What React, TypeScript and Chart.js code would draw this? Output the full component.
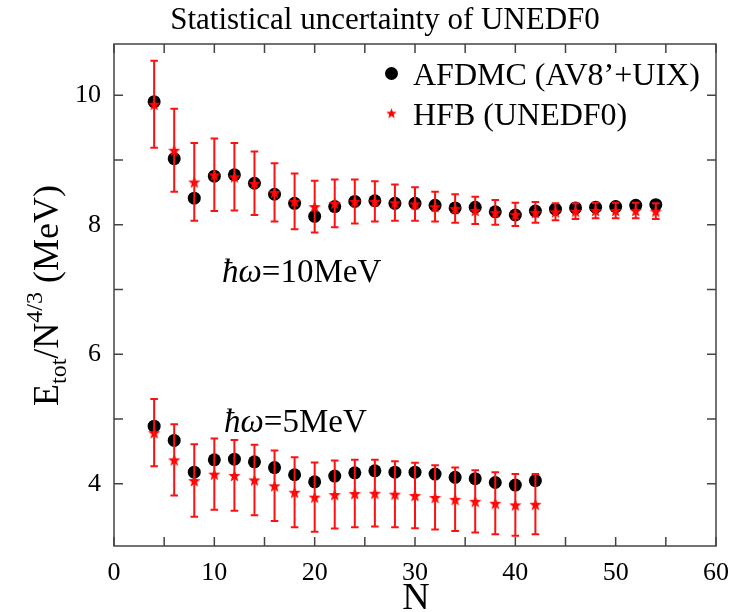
import React, { useEffect, useRef } from "react";
import { Chart, registerables } from "chart.js";
Chart.register(...registerables);

// ---- data ----
const nHigh = [4, 6, 8, 10, 12, 14, 16, 18, 20, 22, 24, 26, 28, 30, 32, 34, 36, 38, 40, 42, 44, 46, 48, 50, 52, 54];
const afdmc10 = [9.9, 9.02, 8.41, 8.75, 8.77, 8.64, 8.47, 8.33, 8.13, 8.28, 8.36, 8.37, 8.33, 8.33, 8.3, 8.26, 8.27, 8.2, 8.15, 8.21, 8.24, 8.26, 8.27, 8.28, 8.3, 8.31];
const hfb10 = [9.86, 9.15, 8.66, 8.77, 8.74, 8.64, 8.5, 8.36, 8.28, 8.33, 8.36, 8.36, 8.34, 8.32, 8.28, 8.25, 8.22, 8.19, 8.16, 8.19, 8.2, 8.21, 8.22, 8.22, 8.22, 8.21];
const hfb10Err = [0.67, 0.64, 0.6, 0.56, 0.52, 0.49, 0.45, 0.43, 0.4, 0.37, 0.34, 0.31, 0.28, 0.26, 0.23, 0.22, 0.21, 0.19, 0.18, 0.16, 0.13, 0.12, 0.12, 0.12, 0.12, 0.12];

const nLow = [4, 6, 8, 10, 12, 14, 16, 18, 20, 22, 24, 26, 28, 30, 32, 34, 36, 38, 40, 42];
const afdmc5 = [4.89, 4.67, 4.18, 4.37, 4.38, 4.34, 4.25, 4.14, 4.03, 4.12, 4.17, 4.2, 4.18, 4.18, 4.15, 4.1, 4.08, 4.02, 3.98, 4.05];
const hfb5 = [4.79, 4.37, 4.05, 4.15, 4.13, 4.06, 3.97, 3.87, 3.795, 3.835, 3.85, 3.855, 3.84, 3.82, 3.79, 3.76, 3.73, 3.7, 3.675, 3.685];
const hfb5Err = [0.52, 0.55, 0.56, 0.55, 0.545, 0.545, 0.545, 0.54, 0.535, 0.525, 0.52, 0.515, 0.51, 0.505, 0.495, 0.49, 0.48, 0.48, 0.475, 0.465];

const xTickValues = [0, 5, 10, 15, 20, 25, 30, 35, 40, 45, 50, 55, 60];
const xLabelValues = [0, 10, 20, 30, 40, 50, 60];
const yTickValues = [4, 5, 6, 7, 8, 9, 10];
const yLabelValues = [4, 6, 8, 10];

const titleText = "Statistical uncertainty of UNEDF0";
const legendLabels = ["AFDMC (AV8\u2019+UIX)", "HFB (UNEDF0)"];
const annot10 = "=10MeV";
const annot5 = "=5MeV";

const SERIF = '"Liberation Serif", "Times New Roman", serif';

function makeStar(outer: number, inner: number, color: string) {
  const size = Math.ceil(outer * 2 + 2);
  const c = document.createElement("canvas");
  c.width = size;
  c.height = size;
  const ctx = c.getContext("2d")!;
  ctx.translate(size / 2, size / 2 + 0.7);
  ctx.beginPath();
  for (let i = 0; i < 10; i++) {
    const r = i % 2 === 0 ? outer : inner;
    const a = -Math.PI / 2 + (i * Math.PI) / 5;
    ctx.lineTo(r * Math.cos(a), r * Math.sin(a));
  }
  ctx.closePath();
  ctx.fillStyle = color;
  ctx.fill();
  return c;
}

export default function App() {
  const ref = useRef<HTMLCanvasElement>(null);
  useEffect(() => {
    const star = makeStar(6.5, 2.7, "#ff0000");
    const legendStar = makeStar(5.5, 2.3, "#ff0000");
    const toPts = (xs: number[], ys: number[]) => xs.map((x, i) => ({ x, y: ys[i] }));

    const overlay = {
      id: "overlay",
      afterDatasetsDraw(chart: any) {
        const { ctx, scales } = chart;
        const xs = scales.x, ys = scales.y;
        chart.data.datasets.forEach((ds: any) => {
          if (!ds.errors) return;
          ctx.save();
          ctx.strokeStyle = "#ff1010";
          ctx.lineWidth = 2;
          ds.data.forEach((p: any, i: number) => {
            const px = xs.getPixelForValue(p.x);
            const t = ys.getPixelForValue(p.y + ds.errors[i]);
            const b = ys.getPixelForValue(p.y - ds.errors[i]);
            ctx.beginPath();
            ctx.moveTo(px, t);
            ctx.lineTo(px, b);
            ctx.moveTo(px - 3.8, t);
            ctx.lineTo(px + 3.8, t);
            ctx.moveTo(px - 3.8, b);
            ctx.lineTo(px + 3.8, b);
            ctx.stroke();
          });
          ctx.restore();
        });
      },
      afterDraw(chart: any) {
        const { ctx, chartArea, scales } = chart;
        const { left, right, top, bottom } = chartArea;
        const xs = scales.x, ys = scales.y;
        ctx.save();
        // frame
        ctx.strokeStyle = "#444";
        ctx.lineWidth = 1.5;
        ctx.strokeRect(left, top, right - left, bottom - top);
        // inward ticks
        const tl = 9;
        ctx.beginPath();
        xTickValues.forEach((v) => {
          const px = xs.getPixelForValue(v);
          ctx.moveTo(px, bottom);
          ctx.lineTo(px, bottom - tl);
          ctx.moveTo(px, top);
          ctx.lineTo(px, top + tl);
        });
        yTickValues.forEach((v) => {
          const py = ys.getPixelForValue(v);
          ctx.moveTo(left, py);
          ctx.lineTo(left + tl, py);
          ctx.moveTo(right, py);
          ctx.lineTo(right - tl, py);
        });
        ctx.stroke();

        ctx.fillStyle = "#000";
        // title
        ctx.font = `31px ${SERIF}`;
        ctx.textAlign = "center";
        ctx.textBaseline = "alphabetic";
        ctx.fillText(titleText, 385, 29);

        // x title
        ctx.font = `38px ${SERIF}`;
        ctx.fillText("N", 416, 609);

        // y title with sub/superscripts
        const segs = [
          { t: "E", s: 36, dy: 0 },
          { t: "tot", s: 24, dy: 8 },
          { t: "/N", s: 36, dy: 0 },
          { t: "4/3", s: 24, dy: -16 },
          { t: " (MeV)", s: 36, dy: 0 },
        ];
        ctx.save();
        ctx.translate(58, 406);
        ctx.rotate(-Math.PI / 2);
        ctx.textAlign = "left";
        let cx = 0;
        segs.forEach((g) => {
          ctx.font = `${g.s}px ${SERIF}`;
          ctx.fillText(g.t, cx, g.dy);
          cx += ctx.measureText(g.t).width;
        });
        ctx.restore();

        // annotations
        const drawAnnot = (txt: string, x: number, y: number) => {
          ctx.textAlign = "left";
          ctx.font = `italic 33px ${SERIF}`;
          ctx.fillText("\u0127\u03c9", x, y);
          const w = ctx.measureText("\u0127\u03c9").width;
          ctx.font = `33px ${SERIF}`;
          ctx.fillText(txt, x + w, y);
        };
        drawAnnot(annot10, 222, 282);
        drawAnnot(annot5, 224, 432);

        // legend
        ctx.beginPath();
        ctx.arc(391.5, 73.5, 6.5, 0, Math.PI * 2);
        ctx.fillStyle = "#000";
        ctx.fill();
        ctx.drawImage(legendStar, 391.5 - legendStar.width / 2, 113 - legendStar.height / 2);
        ctx.font = `32px ${SERIF}`;
        ctx.textAlign = "left";
        ctx.fillText(legendLabels[0], 413, 85);
        ctx.fillText(legendLabels[1], 413, 125);
        ctx.restore();
      },
    };

    const chart = new Chart(ref.current!, {
      type: "scatter",
      data: {
        datasets: [
          {
            label: legendLabels[1] + " 10",
            data: toPts(nHigh, hfb10),
            errors: hfb10Err,
            pointStyle: star,
            order: 1,
          } as any,
          {
            label: legendLabels[1] + " 5",
            data: toPts(nLow, hfb5),
            errors: hfb5Err,
            pointStyle: star,
            order: 1,
          } as any,
          {
            label: legendLabels[0] + " 10",
            data: toPts(nHigh, afdmc10),
            pointStyle: "circle",
            pointRadius: 6.5,
            backgroundColor: "#000",
            borderColor: "#000",
            borderWidth: 0,
            order: 2,
          },
          {
            label: legendLabels[0] + " 5",
            data: toPts(nLow, afdmc5),
            pointStyle: "circle",
            pointRadius: 6.5,
            backgroundColor: "#000",
            borderColor: "#000",
            borderWidth: 0,
            order: 2,
          },
        ],
      },
      options: {
        animation: false,
        responsive: false,
        maintainAspectRatio: false,
        layout: { padding: { left: 0, top: 44, right: 26, bottom: 0 } },
        plugins: { legend: { display: false }, tooltip: { enabled: false }, title: { display: false } },
        scales: {
          x: {
            type: "linear",
            min: 0,
            max: 60,
            afterBuildTicks: (s: any) => {
              s.ticks = xTickValues.map((v) => ({ value: v }));
            },
            afterFit: (s: any) => {
              s.height = 66;
            },
            grid: { display: false, drawTicks: false, tickLength: 0 },
            border: { display: false },
            ticks: {
              padding: 12,
              color: "#000",
              maxRotation: 0,
              autoSkip: false,
              font: { family: SERIF, size: 26 },
              callback: (v: any) => (xLabelValues.includes(Number(v)) ? String(v) : ""),
            },
          },
          y: {
            type: "linear",
            min: 3.04,
            max: 10.79,
            afterBuildTicks: (s: any) => {
              s.ticks = yTickValues.map((v) => ({ value: v }));
            },
            afterFit: (s: any) => {
              s.width = 114;
            },
            grid: { display: false, drawTicks: false, tickLength: 0 },
            border: { display: false },
            ticks: {
              padding: 13,
              color: "#000",
              autoSkip: false,
              font: { family: SERIF, size: 26 },
              callback: (v: any) => (yLabelValues.includes(Number(v)) ? String(v) : ""),
            },
          },
        },
      } as any,
      plugins: [overlay],
    });
    return () => chart.destroy();
  }, []);

  return (
    <div style={{ position: "fixed", left: 0, top: 0, width: 742, height: 612, background: "#fff" }}>
      <canvas ref={ref} width={742} height={612} style={{ display: "block", width: 742, height: 612 }} />
    </div>
  );
}
